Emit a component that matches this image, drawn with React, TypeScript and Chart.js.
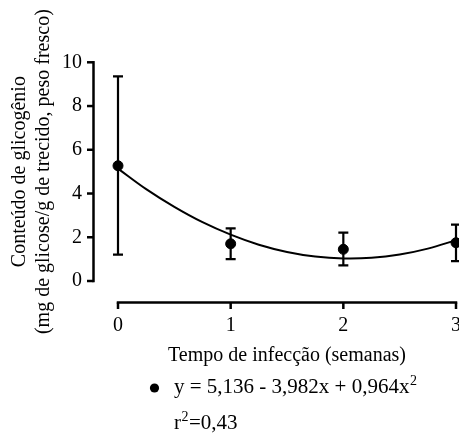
import React, { useEffect, useRef } from "react";
import { Chart, registerables } from "chart.js";

Chart.register(...registerables);

// ---- data ----
const weeks = [0, 1, 2, 3];
const glycogenMean = [5.27, 1.7, 1.45, 1.75];
const glycogenLow = [1.21, 1.0, 0.71, 0.91];
const glycogenHigh = [9.36, 2.41, 2.21, 2.58];

const fitX = [0, 0.25, 0.5, 0.75, 1, 1.25, 1.5, 1.75, 2, 2.25, 2.5, 2.75, 3];
const fitY = [5.14, 4.2, 3.39, 2.69, 2.12, 1.66, 1.33, 1.12, 1.03, 1.06, 1.21, 1.48, 1.87];

const yTicks = [0, 2, 4, 6, 8, 10];
const xTicks = [0, 1, 2, 3];

const xTitle = "Tempo de infecção (semanas)";
const yTitle = ["Conteúdo de glicogênio", "(mg de glicose/g de trecido, peso fresco)"];
// equation and r² parts: [base text, superscript, trailing text]
const equationParts = ["y = 5,136 - 3,982x + 0,964x", "2", ""];
const rSquaredParts = ["r", "2", "=0,43"];

const FONT_FAMILY = "'Liberation Serif', 'Times New Roman', serif";

function drawSupText(ctx: any, parts: string[], x: number, y: number, size: number) {
  const [base, sup, tail] = parts;
  ctx.font = `${size}px ${FONT_FAMILY}`;
  ctx.fillText(base, x, y);
  let cx = x + ctx.measureText(base).width;
  const supSize = Math.round(size * 0.66);
  ctx.font = `${supSize}px ${FONT_FAMILY}`;
  ctx.fillText(sup, cx + 0.5, y - size * 0.4);
  cx += ctx.measureText(sup).width + 1;
  ctx.font = `${size}px ${FONT_FAMILY}`;
  if (tail) ctx.fillText(tail, cx, y);
}

const detachedAxes = {
  id: "detachedAxes",
  beforeDatasetsDraw(chart: any) {
    const { ctx } = chart;
    const xs = chart.scales.x;
    const ys = chart.scales.y;
    const yAxisX = xs.left - 24.5;
    const xAxisY = ys.bottom + 21.5;
    ctx.save();
    ctx.strokeStyle = "#000";
    ctx.lineCap = "butt";
    ctx.lineWidth = 2.5;
    // y axis
    const yTop = ys.getPixelForValue(yTicks[yTicks.length - 1]);
    const yBot = ys.getPixelForValue(yTicks[0]);
    ctx.beginPath();
    ctx.moveTo(yAxisX, yTop - 1.25);
    ctx.lineTo(yAxisX, yBot + 1.25);
    ctx.stroke();
    yTicks.forEach((v) => {
      const py = ys.getPixelForValue(v);
      ctx.beginPath();
      ctx.moveTo(yAxisX - 6.5, py);
      ctx.lineTo(yAxisX, py);
      ctx.stroke();
    });
    // x axis
    const xL = xs.getPixelForValue(xTicks[0]);
    const xR = xs.getPixelForValue(xTicks[xTicks.length - 1]);
    ctx.beginPath();
    ctx.moveTo(xL - 1.25, xAxisY);
    ctx.lineTo(xR + 1.25, xAxisY);
    ctx.stroke();
    xTicks.forEach((v) => {
      const px = xs.getPixelForValue(v);
      ctx.beginPath();
      ctx.moveTo(px, xAxisY);
      ctx.lineTo(px, xAxisY + 6.5);
      ctx.stroke();
    });
    // error bars
    ctx.lineWidth = 2.2;
    weeks.forEach((w, i) => {
      const px = xs.getPixelForValue(w);
      const lo = ys.getPixelForValue(glycogenLow[i]);
      const hi = ys.getPixelForValue(glycogenHigh[i]);
      ctx.beginPath();
      ctx.moveTo(px, lo);
      ctx.lineTo(px, hi);
      ctx.moveTo(px - 5, lo);
      ctx.lineTo(px + 5, lo);
      ctx.moveTo(px - 5, hi);
      ctx.lineTo(px + 5, hi);
      ctx.stroke();
    });
    ctx.restore();
  },
  afterDraw(chart: any) {
    const { ctx } = chart;
    const xs = chart.scales.x;
    const ys = chart.scales.y;
    ctx.save();
    ctx.fillStyle = "#000";
    ctx.textAlign = "left";
    ctx.textBaseline = "alphabetic";
    ctx.beginPath();
    ctx.arc(xs.left + 36.5, ys.bottom + 107, 4.6, 0, Math.PI * 2);
    ctx.fill();
    drawSupText(ctx, equationParts, xs.left + 56, ys.bottom + 112, 21);
    drawSupText(ctx, rSquaredParts, xs.left + 56, ys.bottom + 148, 21);
    ctx.restore();
  },
};

function zeroPad(s: any) {
  s.paddingLeft = 0;
  s.paddingRight = 0;
  s.paddingTop = 0;
  s.paddingBottom = 0;
}

export default function App() {
  const ref = useRef<HTMLCanvasElement | null>(null);

  useEffect(() => {
    if (!ref.current) return;
    const font = { family: FONT_FAMILY, size: 20 };
    const chart = new Chart(ref.current, {
      type: "scatter",
      data: {
        datasets: [
          {
            type: "line",
            label: "ajuste",
            data: fitX.map((x, i) => ({ x, y: fitY[i] })),
            borderColor: "#000",
            borderWidth: 2,
            pointRadius: 0,
            tension: 0.4,
            fill: false,
            clip: false,
          } as any,
          {
            type: "scatter",
            label: equationParts.join(""),
            data: weeks.map((x, i) => ({ x, y: glycogenMean[i] })),
            backgroundColor: "#000",
            borderColor: "#000",
            pointRadius: 5,
            pointHoverRadius: 5,
            clip: false,
          } as any,
        ],
      },
      options: {
        animation: false,
        responsive: false,
        events: [],
        layout: { padding: { top: 62.3, right: 24, left: 0, bottom: 0 } },
        plugins: {
          legend: { display: false },
          tooltip: { enabled: false },
        },
        scales: {
          x: {
            type: "linear",
            min: xTicks[0],
            max: xTicks[xTicks.length - 1],
            grid: { display: false },
            border: { display: false },
            afterBuildTicks: (s: any) => {
              s.ticks = xTicks.map((v) => ({ value: v }));
            },
            ticks: { padding: 25, color: "#000", font },
            title: {
              display: true,
              text: xTitle,
              color: "#000",
              font,
              padding: { top: 0, bottom: 70 },
            },
            afterFit: (s: any) => {
              s.height = 157;
              zeroPad(s);
            },
          },
          y: {
            type: "linear",
            min: yTicks[0],
            max: yTicks[yTicks.length - 1],
            grid: { display: false },
            border: { display: false },
            afterBuildTicks: (s: any) => {
              s.ticks = yTicks.map((v) => ({ value: v }));
            },
            ticks: { padding: 28, color: "#000", font },
            title: {
              display: true,
              text: yTitle,
              color: "#000",
              font,
              padding: { top: 7.6, bottom: 0 },
            },
            afterFit: (s: any) => {
              s.width = 118;
              zeroPad(s);
            },
          },
        },
      } as any,
      plugins: [detachedAxes],
    });
    return () => chart.destroy();
  }, []);

  return (
    <div
      style={{
        position: "absolute",
        left: 0,
        top: 0,
        width: 459,
        height: 438,
        overflow: "hidden",
        background: "#fff",
      }}
    >
      <canvas ref={ref} width={480} height={438} style={{ display: "block" }} />
    </div>
  );
}
